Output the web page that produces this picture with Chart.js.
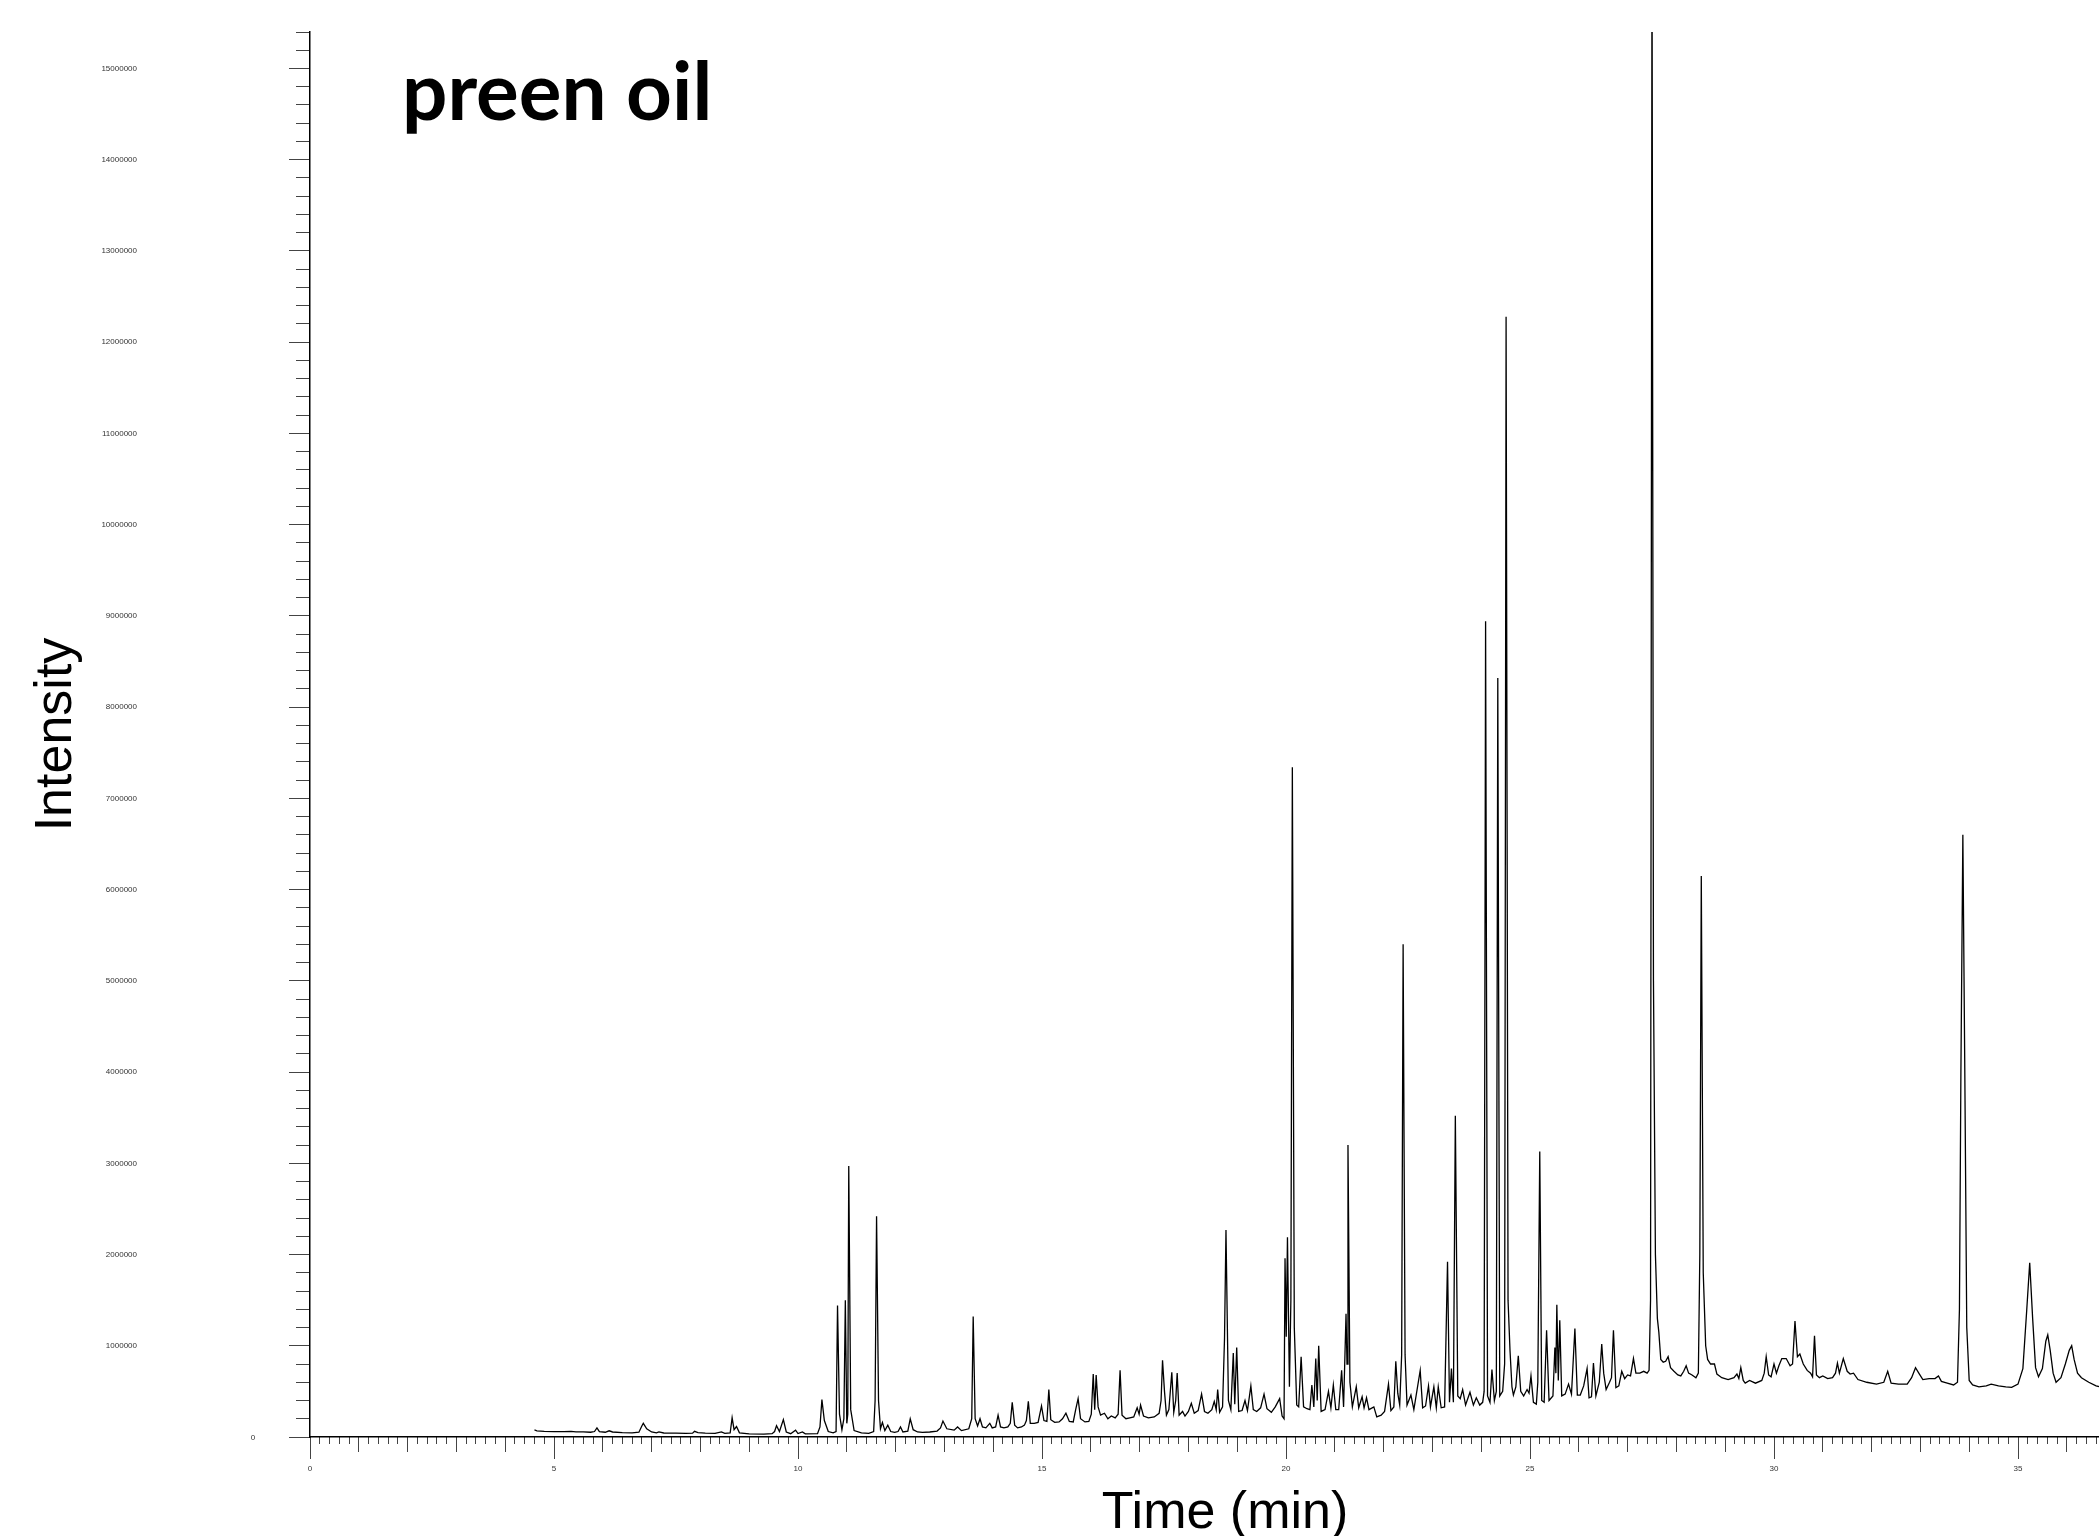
<!DOCTYPE html>
<html><head><meta charset="utf-8">
<script src="https://cdn.jsdelivr.net/npm/chart.js@4.4.1/dist/chart.umd.min.js"></script>
<style>
html,body{margin:0;padding:0;overflow:hidden;background:#fff;width:2099px;height:1536px}
canvas{display:block}
</style></head><body>
<canvas id="c" width="2140" height="1560"></canvas>
<script>
const chartTitle = 'preen oil';
const xTitle = 'Time (min)';
const yTitle = 'Intensity';

const retentionTime = [
 4.60,4.65,4.80,5.00,5.20,5.35,5.45,5.60,5.75,5.83,
 5.88,5.93,6.05,6.13,6.20,6.40,6.60,6.74,6.80,6.83,
 6.90,7.00,7.10,7.15,7.25,7.50,7.70,7.84,7.88,7.95,
 8.10,8.30,8.43,8.50,8.61,8.65,8.69,8.74,8.80,9.00,
 9.30,9.47,9.52,9.56,9.62,9.70,9.76,9.85,9.95,10.00,
 10.09,10.15,10.40,10.45,10.49,10.54,10.62,10.72,10.78,10.81,
 10.85,10.90,10.94,10.97,11.00,11.02,11.04,11.08,11.15,11.30,
 11.45,11.55,11.58,11.61,11.65,11.69,11.73,11.78,11.84,11.90,
 11.98,12.05,12.10,12.15,12.25,12.30,12.36,12.45,12.55,12.70,
 12.85,12.92,12.97,13.05,13.20,13.27,13.35,13.50,13.56,13.59,
 13.63,13.68,13.73,13.78,13.85,13.93,13.98,14.05,14.10,14.15,
 14.22,14.30,14.35,14.39,14.44,14.50,14.58,14.64,14.68,14.72,
 14.76,14.84,14.92,14.99,15.04,15.10,15.14,15.18,15.26,15.35,
 15.42,15.49,15.56,15.64,15.69,15.74,15.79,15.88,15.96,16.01,
 16.05,16.08,16.11,16.15,16.20,16.28,16.35,16.42,16.50,16.56,
 16.60,16.64,16.72,16.80,16.88,16.95,16.99,17.02,17.08,17.18,
 17.30,17.40,17.44,17.47,17.51,17.55,17.60,17.66,17.70,17.74,
 17.77,17.81,17.88,17.93,18.00,18.06,18.12,18.20,18.27,18.33,
 18.40,18.48,18.53,18.57,18.60,18.64,18.70,18.74,18.77,18.82,
 18.87,18.92,18.95,18.99,19.03,19.10,19.16,19.21,19.28,19.33,
 19.40,19.48,19.55,19.61,19.70,19.78,19.87,19.92,19.96,19.98,
 20.005,20.03,20.07,20.10,20.13,20.17,20.22,20.26,20.31,20.36,
 20.43,20.49,20.53,20.57,20.61,20.64,20.67,20.72,20.80,20.87,
 20.92,20.97,21.02,21.08,21.14,21.18,21.23,21.25,21.27,21.31,
 21.36,21.44,21.49,21.56,21.60,21.65,21.70,21.80,21.86,21.95,
 22.02,22.10,22.15,22.21,22.25,22.29,22.33,22.37,22.40,22.44,
 22.48,22.56,22.62,22.75,22.80,22.86,22.92,22.96,23.03,23.08,
 23.12,23.18,23.25,23.31,23.35,23.39,23.43,23.47,23.52,23.57,
 23.62,23.68,23.77,23.84,23.90,23.97,24.03,24.06,24.09,24.13,
 24.18,24.22,24.27,24.31,24.34,24.38,24.44,24.48,24.51,24.55,
 24.59,24.63,24.66,24.71,24.76,24.81,24.87,24.94,24.98,25.02,
 25.07,25.13,25.16,25.20,25.24,25.29,25.34,25.39,25.47,25.51,
 25.53,25.55,25.58,25.61,25.65,25.72,25.79,25.85,25.92,25.97,
 26.03,26.10,26.17,26.21,26.26,26.30,26.35,26.42,26.47,26.51,
 26.56,26.63,26.67,26.71,26.76,26.82,26.88,26.94,27.00,27.06,
 27.12,27.17,27.25,27.33,27.40,27.44,27.47,27.50,27.53,27.57,
 27.61,27.64,27.68,27.73,27.78,27.83,27.88,27.95,28.03,28.09,
 28.15,28.20,28.25,28.32,28.40,28.45,28.48,28.51,28.55,28.60,
 28.64,28.70,28.78,28.83,28.93,29.06,29.18,29.24,29.28,29.32,
 29.37,29.41,29.50,29.62,29.75,29.80,29.84,29.89,29.94,30.00,
 30.05,30.10,30.16,30.25,30.33,30.38,30.43,30.48,30.53,30.60,
 30.68,30.75,30.79,30.83,30.87,30.93,31.00,31.10,31.20,31.26,
 31.30,31.34,31.42,31.50,31.56,31.63,31.72,31.90,32.10,32.25,
 32.33,32.40,32.55,32.73,32.82,32.90,32.98,33.05,33.18,33.30,
 33.37,33.43,33.55,33.68,33.76,33.80,33.83,33.87,33.91,33.95,
 34.00,34.07,34.20,34.35,34.45,34.60,34.75,34.87,35.00,35.10,
 35.18,35.24,35.30,35.36,35.42,35.50,35.57,35.61,35.66,35.72,
 35.78,35.88,35.97,36.05,36.10,36.15,36.22,36.30,36.45,36.60,
 36.75
];

const intensity = [
 77000,68000,62000,60000,58000,62000,56000,57000,52000,60000,
 100000,58000,52000,68000,55000,48000,46000,52000,120000,150000,
 90000,55000,45000,55000,44000,42000,40000,42000,62000,48000,
 42000,40000,55000,40000,44000,210000,80000,115000,45000,34000,
 32000,36000,60000,125000,60000,190000,55000,36000,75000,38000,
 55000,34000,36000,110000,410000,180000,60000,45000,60000,1440000,
 250000,80000,200000,1500000,150000,250000,2970000,300000,70000,45000,
 40000,60000,400000,2420000,400000,90000,160000,70000,130000,60000,
 50000,60000,110000,55000,65000,200000,80000,55000,50000,55000,
 65000,100000,175000,90000,75000,110000,70000,90000,200000,1320000,
 200000,120000,200000,110000,100000,150000,100000,110000,240000,110000,
 100000,110000,150000,380000,130000,100000,110000,130000,180000,390000,
 150000,150000,160000,340000,180000,170000,520000,190000,160000,165000,
 200000,260000,170000,165000,300000,420000,200000,165000,170000,250000,
 690000,300000,680000,330000,240000,260000,200000,230000,210000,250000,
 730000,240000,200000,210000,220000,320000,250000,350000,230000,210000,
 220000,260000,400000,840000,500000,240000,300000,710000,270000,400000,
 700000,240000,280000,230000,280000,370000,260000,290000,470000,280000,
 260000,300000,390000,300000,520000,270000,330000,1080000,2270000,400000,
 300000,920000,360000,980000,280000,290000,400000,290000,560000,300000,
 280000,320000,470000,310000,270000,330000,420000,230000,200000,1960000,
 1100000,2190000,550000,1500000,7340000,1200000,350000,330000,880000,330000,
 310000,300000,570000,330000,860000,400000,1000000,280000,300000,500000,
 320000,570000,300000,300000,730000,330000,1350000,800000,3200000,600000,
 330000,550000,320000,440000,320000,430000,300000,330000,220000,240000,
 280000,580000,290000,330000,830000,480000,350000,900000,5400000,900000,
 350000,460000,300000,730000,320000,340000,560000,330000,550000,320000,
 550000,320000,330000,1920000,380000,750000,380000,3520000,450000,420000,
 520000,350000,490000,350000,430000,350000,380000,500000,8940000,450000,
 380000,740000,400000,500000,8320000,450000,500000,800000,12280000,1500000,
 950000,550000,460000,550000,890000,500000,450000,520000,480000,670000,
 380000,360000,600000,3130000,400000,380000,1170000,400000,450000,980000,
 700000,1450000,620000,1280000,450000,470000,580000,470000,1190000,460000,
 460000,560000,750000,430000,440000,810000,450000,600000,1020000,700000,
 520000,600000,650000,1170000,540000,560000,720000,640000,680000,670000,
 860000,700000,700000,720000,700000,730000,1500000,16500000,5000000,2000000,
 1300000,1150000,850000,820000,830000,880000,760000,720000,680000,670000,
 720000,780000,700000,680000,650000,700000,2000000,6150000,1800000,1000000,
 850000,800000,800000,690000,650000,630000,650000,690000,640000,760000,
 620000,590000,620000,590000,620000,700000,880000,680000,660000,800000,
 700000,780000,860000,860000,780000,800000,1270000,880000,910000,800000,
 730000,700000,660000,1110000,680000,650000,670000,640000,650000,700000,
 810000,700000,860000,720000,690000,700000,630000,600000,580000,600000,
 720000,590000,580000,580000,650000,760000,690000,630000,640000,640000,
 670000,610000,590000,570000,600000,1400000,4000000,6600000,4000000,1200000,
 620000,570000,550000,560000,580000,560000,550000,545000,580000,750000,
 1400000,1910000,1300000,760000,660000,750000,1050000,1120000,950000,700000,
 600000,650000,800000,950000,1000000,850000,700000,650000,600000,560000,
 540000
];

const xRange = [0, 37.5];
const yRange = [0, 15400000];
const xTickSteps = [0.2, 1, 5];       // minor, minute, labelled
const yTickSteps = [200000, 1000000]; // minor, labelled

const isMult = (v, s) => Math.abs(v / s - Math.round(v / s)) < 1e-6;
const tickInk = '#444';
const labelFont = {family: '"Liberation Sans", Arial, sans-serif', size: 8};
const titleFont = {family: '"Liberation Sans", Arial, sans-serif', size: 52};

function fixBox(s, pos, size) {
  if (pos === 'bottom') s.height = size; else s.width = size;
  s.paddingTop = 0; s.paddingBottom = 0; s.paddingLeft = 0; s.paddingRight = 0;
}

function tickAxis(pos, weight, step, len, majorStep) {
  return {
    type: 'linear', position: pos, weight: weight,
    min: pos === 'bottom' ? xRange[0] : yRange[0],
    max: pos === 'bottom' ? xRange[1] : yRange[1],
    border: {display: false},
    grid: {drawOnChartArea: false, drawTicks: true, tickLength: len, tickWidth: 1,
           tickColor: c => isMult(c.tick.value, majorStep) ? tickInk : 'rgba(0,0,0,0)'},
    ticks: {stepSize: step, display: false, autoSkip: false, padding: 0},
    afterFit: s => fixBox(s, pos, 0)
  };
}

const scales = {
  x: {
    type: 'linear', position: 'bottom', weight: 2, min: xRange[0], max: xRange[1],
    border: {display: true, color: '#000', width: 1.5},
    grid: {drawOnChartArea: false, drawTicks: true, tickLength: 22, tickWidth: 1,
           tickColor: c => isMult(c.tick.value, xTickSteps[2]) ? tickInk : 'rgba(0,0,0,0)'},
    ticks: {stepSize: xTickSteps[2], autoSkip: false, maxRotation: 0, padding: 5, color: '#333', font: labelFont,
            callback: v => isMult(v, xTickSteps[2]) ? String(Math.round(v)) : ''},
    title: {display: true, text: xTitle, color: '#000', font: titleFont, padding: {top: 0, bottom: 15}},
    afterFit: s => fixBox(s, 'bottom', 123)
  },
  xMid: tickAxis('bottom', 1, xTickSteps[1], 15, xTickSteps[1]),
  xMinor: tickAxis('bottom', 0, xTickSteps[0], 7, xTickSteps[0]),
  yTitle: {
    type: 'linear', position: 'left', weight: 2, min: yRange[0], max: yRange[1],
    border: {display: false},
    grid: {display: false, drawTicks: false},
    ticks: {display: false},
    title: {display: true, text: yTitle, color: '#000', font: titleFont, padding: {top: 25, bottom: 0}},
    afterFit: s => fixBox(s, 'left', 101)
  },
  y: {
    type: 'linear', position: 'left', weight: 1, min: yRange[0], max: yRange[1],
    border: {display: true, color: '#000', width: 1.5},
    grid: {drawOnChartArea: false, drawTicks: true, tickLength: 21, tickWidth: 1,
           tickColor: c => isMult(c.tick.value, yTickSteps[1]) ? tickInk : 'rgba(0,0,0,0)'},
    ticks: {stepSize: yTickSteps[0], autoSkip: false, padding: 152, crossAlign: 'near', color: '#333', font: labelFont,
            callback: v => (isMult(v, yTickSteps[1]) && v !== 0) ? String(Math.round(v)) : ''},
    afterFit: s => fixBox(s, 'left', 209)
  },
  yMinor: tickAxis('left', 0, yTickSteps[0], 14, yTickSteps[0])
};

const overlayText = {
  id: 'overlayText',
  afterDraw(chart) {
    const ctx = chart.ctx;
    const ys = chart.scales.y;
    ctx.save();
    ctx.fillStyle = '#000';
    ctx.font = '700 80px Lato, "Open Sans", sans-serif';
    ctx.textBaseline = 'alphabetic';
    ctx.textAlign = 'left';
    ctx.fillText(chartTitle, 402, 120);
    ctx.fillStyle = '#333';
    ctx.font = '8px "Liberation Sans", Arial, sans-serif';
    ctx.textAlign = 'center';
    ctx.textBaseline = 'middle';
    ctx.fillText(String(yRange[0]), 253, ys.getPixelForValue(yRange[0]) + 1);
    ctx.restore();
  }
};

new Chart(document.getElementById('c'), {
  type: 'line',
  data: {
    datasets: [{
      data: retentionTime.map((t, i) => ({x: t, y: intensity[i]})),
      borderColor: '#000', borderWidth: 1.3, pointRadius: 0, tension: 0, fill: false,
      xAxisID: 'x', yAxisID: 'y'
    }]
  },
  options: {
    responsive: false, animation: false, devicePixelRatio: 1,
    layout: {padding: {top: 32, left: 0, right: 0, bottom: 0}},
    plugins: {legend: {display: false}, tooltip: {enabled: false}, title: {display: false}},
    scales: scales
  },
  plugins: [overlayText]
});
</script>
</body></html>
